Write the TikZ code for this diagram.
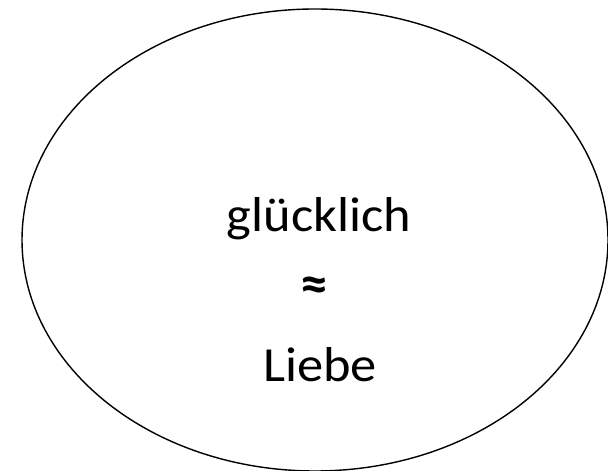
\documentclass[tikz,border=0pt]{standalone}
\usepackage{fontspec}
\setmainfont{Carlito}
\usepackage{tikz}
\usetikzlibrary{positioning}
\definecolor{ink}{RGB}{0,0,0}

\begin{document}
\begin{tikzpicture}[
    x=1pt, y=1pt,
    word/.style={font=\fontsize{49}{54}\selectfont, text=ink, inner sep=0pt,
                 anchor=base, xscale=1.07},
    rim/.style={draw=ink, line width=1.4pt}
  ]
    \useasboundingbox (0,0) rectangle (608,471);
    \draw[rim] (315,231) ellipse [x radius=293, y radius=231];

    \node[word] (glueck) at (319,239) {glücklich};
    \node[word, anchor=center, font=\fontsize{52}{56}\selectfont\bfseries] (approx) at (314,182) {≈};
    \node[word] (liebe) at (320,89) {Liebe};
  \end{tikzpicture}
\end{document}
